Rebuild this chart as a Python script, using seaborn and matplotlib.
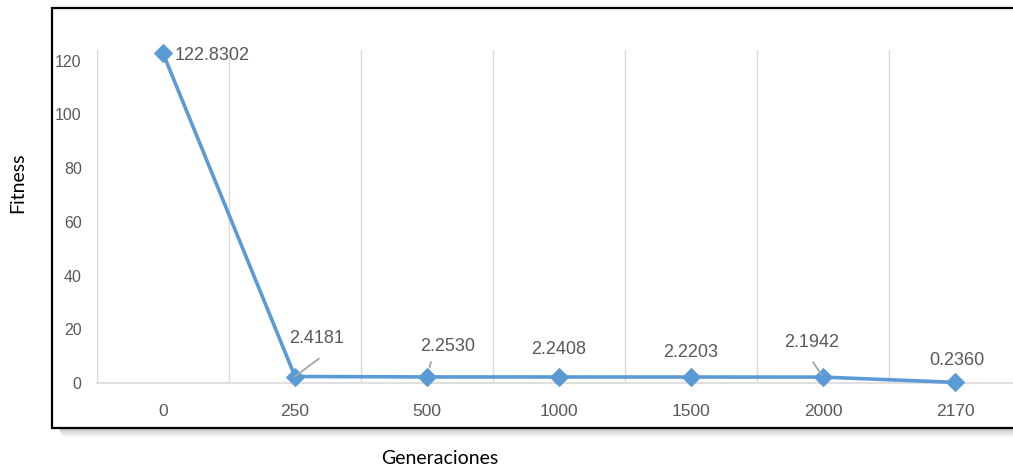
import matplotlib
matplotlib.use("Agg")
import matplotlib.pyplot as plt
import seaborn as sns
import pandas as pd
from matplotlib.patches import Rectangle

# Fitness of the best individual at selected generations
generaciones = ["0", "250", "500", "1000", "1500", "2000", "2170"]
fitness = [122.8302, 2.4181, 2.2530, 2.2408, 2.2203, 2.1942, 0.2360]
etiquetas = ["122.8302", "2.4181", "2.2530", "2.2408", "2.2203", "2.1942", "0.2360"]
y_ticks = [0, 20, 40, 60, 80, 100, 120]

sns.set_theme(style="white")
plt.rcParams["font.family"] = ["Liberation Sans", "DejaVu Sans"]

W, H = 1013, 470
fig = plt.figure(figsize=(W / 100, H / 100), dpi=100)


def fx(px):
    return px / W


def fy(py):
    return 1 - py / H


# Drop shadow under the chart frame
for i in range(12):
    fig.patches.append(Rectangle(
        (fx(58 + i * 0.5), fy(428 + i)), fx(1100), 1 / H,
        transform=fig.transFigure, facecolor="black",
        alpha=0.28 * (1 - i / 12) ** 1.5, edgecolor="none", zorder=0))

# Chart frame
fig.patches.append(Rectangle(
    (fx(52), fy(428)), fx(1100), (428 - 8) / H,
    transform=fig.transFigure, facecolor="white", edgecolor="black",
    linewidth=1.6, zorder=1))

ax = fig.add_axes([fx(97), fy(383), (1021 - 97) / W, (383 - 50) / H])
ax.set_facecolor("none")
ax.set_zorder(2)

df = pd.DataFrame({"gen": generaciones, "fitness": fitness})
blue = "#5B9BD5"
sns.lineplot(data=df, x="gen", y="fitness", ax=ax, sort=False, color=blue,
             linewidth=2.6, marker="D", markersize=9, clip_on=False,
             markeredgecolor=blue, markerfacecolor=blue, zorder=5)

ax.set_xlim(-0.5, len(generaciones) - 0.5)
ax.set_ylim(0, 124)
ax.set_yticks(y_ticks)
ax.set_yticklabels([str(v) for v in y_ticks])

# Vertical separators between categories
ax.set_xticks([i - 0.5 for i in range(len(generaciones) + 1)], minor=True)
ax.grid(True, which="minor", axis="x", color="#D9D9D9", linewidth=1)
ax.grid(False, which="major")
ax.tick_params(which="both", length=0)
ax.tick_params(axis="y", pad=11, labelsize=11.5, labelcolor="#595959")
ax.tick_params(axis="x", pad=15, labelsize=12.5, labelcolor="#595959")

for side in ["top", "right", "left"]:
    ax.spines[side].set_visible(False)
ax.spines["bottom"].set_color("#D9D9D9")
ax.spines["bottom"].set_linewidth(1.2)

ax.set_xlabel("")
ax.set_ylabel("")

# Data labels: (dx, dy) text offset in pixels, alignment
label_pos = [
    (12, -2, "left"),
    (22, 38, "center"),
    (21, 30, "center"),
    (0, 27, "center"),
    (0, 25, "center"),
    (-11, 35, "center"),
    (2, 22, "center"),
]
# Leader lines from the point towards the label, end offset in pixels
leaders = {1: (24, 18, 0), 2: (4, 15, 7), 5: (-10, 15, 2)}

for i, (txt, val) in enumerate(zip(etiquetas, fitness)):
    dx, dy, ha = label_pos[i]
    ax.annotate(txt, xy=(i, val), xytext=(dx, dy), textcoords="offset pixels",
                ha=ha, va="center", fontsize=13, color="#595959", zorder=6,
                annotation_clip=False)
    if i in leaders:
        lx, ly, shrink = leaders[i]
        ax.annotate("", xy=(i, val), xytext=(lx, ly), textcoords="offset pixels",
                    arrowprops=dict(arrowstyle="-", color="#A6A6A6", lw=1.3,
                                    shrinkA=0, shrinkB=shrink),
                    zorder=6)

fig.text(fx(18), fy(183), "Fitness", rotation=90, ha="center", va="center",
         fontsize=14, color="black", family=["Lato", "DejaVu Sans"])
fig.text(fx(440), fy(458), "Generaciones", ha="center", va="center",
         fontsize=14, color="black", family=["Lato", "DejaVu Sans"])

fig.savefig("out.png", dpi=100)
